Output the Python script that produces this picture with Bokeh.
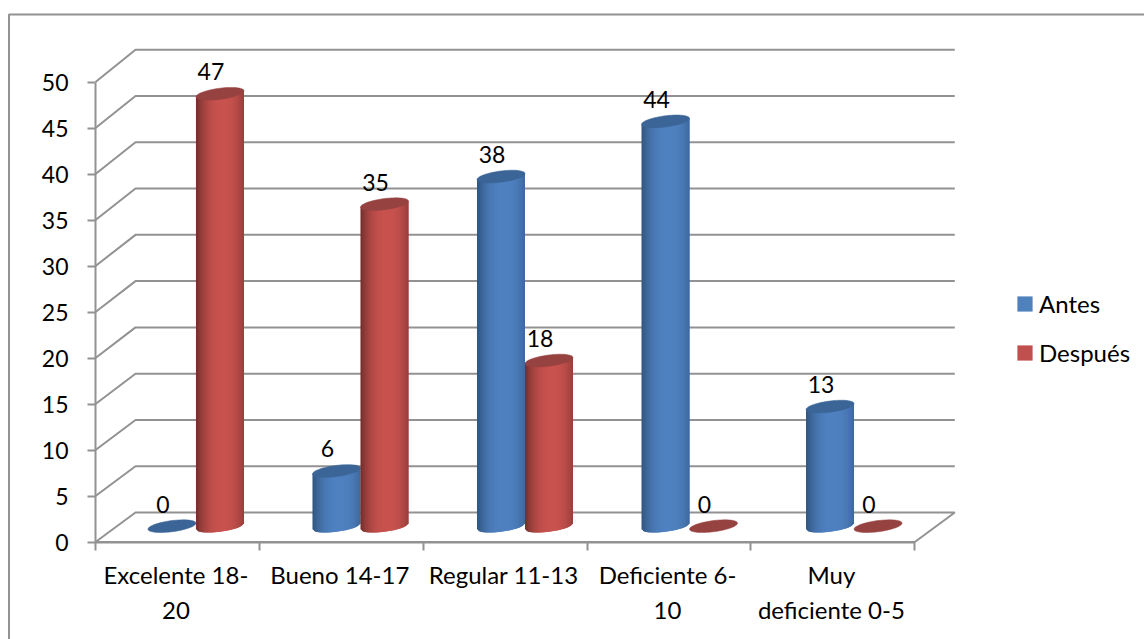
import math
from bokeh.plotting import figure
from bokeh.models import Range1d, LinearAxis, FixedTicker, Legend, LegendItem
from bokeh.core.properties import value
from bokeh.embed import file_html
from bokeh.resources import INLINE

# ---- data ----
categories = ["Excelente 18-\n20", "Bueno 14-17", "Regular 11-13", "Deficiente 6-\n10", "Muy\ndeficiente 0-5"]
antes = [0, 6, 38, 44, 13]
despues = [47, 35, 18, 0, 0]
series_names = ["Antes", "Después"]
y_ticks = [0, 5, 10, 15, 20, 25, 30, 35, 40, 45, 50]

# ---- style ----
FONT = "Lato"
NUM = "23px"
TXT = "24px"
GRID = "#929292"
BLUE = (79, 129, 193)
BLUE_EDGE = (48, 84, 126)
BLUE_CAP = "#3a6596"
RED = (200, 82, 78)
RED_EDGE = (112, 46, 44)
RED_CAP = "#964240"
BLUE_LEG = "#4f81bd"
RED_LEG = "#c0504d"

W, H = 1144, 639
X0, Y0 = 95, 541.5       # page position of the chart origin
PX_X = 163.86            # pixels per category
PX_Y = 9.2               # pixels per value unit
DX = 40 / PX_X           # depth of the 3D floor
DY = 29.5 / PX_Y
WALL = 1.006             # back wall is very slightly larger (perspective)
BASE = 1.72              # floor position of the bars
HALF = 24 / PX_X         # bar radius in x
B = 5.6 / PX_Y           # ellipse half height
S = 3 / PX_Y             # ellipse tilt
STEP = 1.004             # bar spacing per category
SHIFT = -0.009           # bar offset in a category
CAT_SHIFT = -1.5 / PX_X  # category label offset

p = figure(width=W, height=H, output_backend="svg", toolbar_location=None,
           x_range=Range1d(-X0 / PX_X, (W - X0) / PX_X),
           y_range=Range1d(-(H - Y0) / PX_Y, Y0 / PX_Y),
           x_axis_type=None, y_axis_type=None,
           min_border_left=0, min_border_top=0, min_border_bottom=0, min_border_right=0,
           outline_line_color=None, background_fill_color="white", border_fill_color="white")
p.xgrid.visible = False
p.ygrid.visible = False

# outer rule of the chart area (top and left)
bx = (8.5 - X0) / PX_X
by = (Y0 - 14) / PX_Y
p.line([bx, bx, (W - X0) / PX_X], [-(H - Y0) / PX_Y, by, by], line_color=GRID, line_width=2)

# walls and floor
n = len(categories)
xs, ys = [], []
for v in y_ticks[1:]:
    xs.append([0, DX, n + DX])
    ys.append([v, v * WALL + DY, v * WALL + DY])
p.multi_line(xs, ys, line_color=GRID, line_width=2)
p.line([0, DX, n + DX, n, 0], [0, DY, DY, 0, 0], line_color=GRID, line_width=2)


def mix(edge, mid, k):
    return "#%02x%02x%02x" % tuple(round(e + (m - e) * k) for e, m in zip(edge, mid))


def cylinder(cx, val, edge, mid):
    strips = 32
    px, py, pc = [], [], []
    top = val + BASE
    if val > 0:
        for j in range(strips):
            u0 = -1 + 2 * j / strips
            u1 = min(1, -1 + 2 * (j + 2) / strips)   # overlap next strip, hides seams
            um = -1 + 2 * (j + 0.5) / strips
            k = max(0, 1 - (abs(um - 0.12) / 1.12) ** 2.4)
            lo0 = BASE + S * u0 - B * math.sqrt(max(0, 1 - u0 * u0))
            lo1 = BASE + S * u1 - B * math.sqrt(max(0, 1 - u1 * u1))
            px.append([cx + HALF * u0, cx + HALF * u1, cx + HALF * u1, cx + HALF * u0])
            py.append([lo0, lo1, top + S * u1, top + S * u0])
            pc.append(mix(edge, mid, k))
    cxs, cys = [], []
    for j in range(73):
        t = 2 * math.pi * j / 72
        u = math.cos(t)
        cxs.append(cx + HALF * u)
        cys.append(top + S * u + B * math.sin(t))
    return px, py, pc, cxs, cys


centers_a = [i * STEP + 0.5 + SHIFT + DX / 2 - HALF for i in range(n)]
centers_d = [i * STEP + 0.5 + SHIFT + DX / 2 + HALF for i in range(n)]

for centers, vals, edge, mid, cap in ((centers_a, antes, BLUE_EDGE, BLUE, BLUE_CAP),
                                      (centers_d, despues, RED_EDGE, RED, RED_CAP)):
    for c, v in zip(centers, vals):
        px, py, pc, cxs, cys = cylinder(c, v, edge, mid)
        if px:
            p.patches(px, py, fill_color=pc, line_color=None)
        p.patch(cxs, cys, fill_color=cap, line_color=cap, line_width=0.5)

# data labels
lab_x = centers_a + centers_d
lab_y = [v + BASE for v in antes] + [v + BASE for v in despues]
lab_t = [str(v) for v in antes] + [str(v) for v in despues]
p.text(lab_x, lab_y, text=lab_t, x_offset=-9, y_offset=-22, text_align="center",
       text_baseline="middle", text_color="black", text_font=value(FONT), text_font_size=NUM)

# axes
yax = LinearAxis(ticker=FixedTicker(ticks=y_ticks), bounds=(0, 50), fixed_location=0)
yax.axis_line_color = GRID
yax.axis_line_width = 2
yax.major_tick_line_color = GRID
yax.major_tick_line_width = 2
yax.major_tick_in = 0
yax.major_tick_out = 8
yax.minor_tick_line_color = None
yax.major_label_standoff = 19
yax.major_label_text_font = FONT
yax.major_label_text_font_size = NUM
yax.major_label_text_color = "black"
p.add_layout(yax, "left")

xtick = list(range(n + 1))
xax = LinearAxis(ticker=FixedTicker(ticks=xtick), bounds=(0, n), fixed_location=0)
xax.axis_line_color = GRID
xax.axis_line_width = 2
xax.major_tick_line_color = GRID
xax.major_tick_line_width = 2
xax.major_tick_in = 0
xax.major_tick_out = 8
xax.minor_tick_line_color = None
xax.major_label_overrides = {i: "" for i in xtick}
p.add_layout(xax, "below")

cat_pos = [i + 0.5 + CAT_SHIFT for i in range(n)]
cax = LinearAxis(ticker=FixedTicker(ticks=cat_pos), fixed_location=0)
cax.axis_line_color = None
cax.major_tick_line_color = None
cax.minor_tick_line_color = None
cax.major_tick_out = 0
cax.major_label_overrides = {pos: lab for pos, lab in zip(cat_pos, categories)}
cax.major_label_text_font = FONT
cax.major_label_text_font_size = TXT
cax.major_label_text_color = "black"
cax.major_label_text_line_height = 1.2
cax.major_label_standoff = 18
p.add_layout(cax, "below")

# legend (swatch renderers hold no visible geometry)
nan = float("nan")
r_a = p.quad(left=[nan], right=[nan], top=[nan], bottom=[nan], fill_color=BLUE_LEG, line_color=None)
r_d = p.quad(left=[nan], right=[nan], top=[nan], bottom=[nan], fill_color=RED_LEG, line_color=None)
legend = Legend(items=[LegendItem(label=series_names[0], renderers=[r_a]),
                       LegendItem(label=series_names[1], renderers=[r_d])],
                location=(1015, 272), orientation="vertical",
                glyph_width=19, glyph_height=19, label_standoff=5, spacing=20,
                padding=0, margin=0, border_line_color=None, background_fill_alpha=0,
                label_text_font=FONT, label_text_font_size=TXT, label_text_color="black")
p.add_layout(legend, "center")

open("out.html", "w").write(file_html(p, INLINE))
